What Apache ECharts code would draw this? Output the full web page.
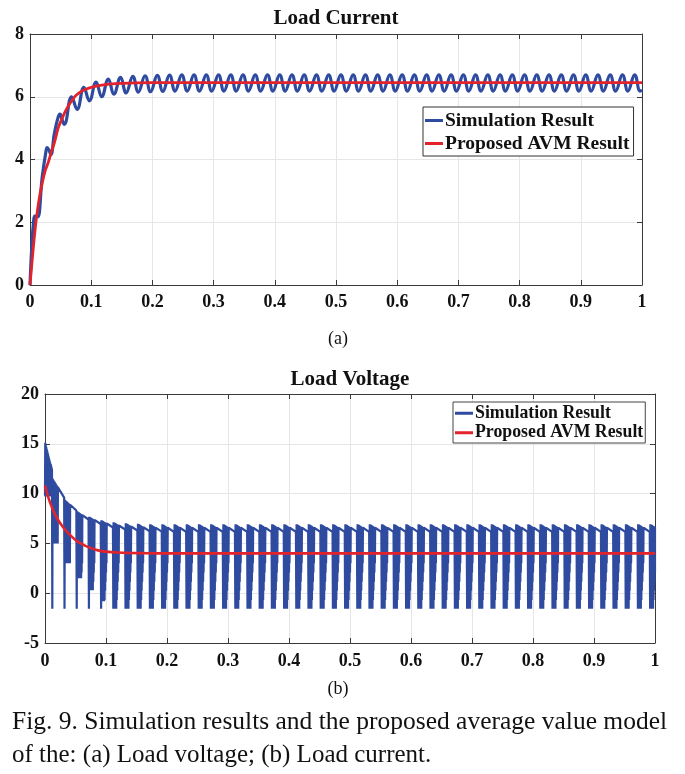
<!DOCTYPE html>
<html>
<head>
<meta charset="utf-8">
<script src="https://cdn.jsdelivr.net/npm/echarts@6/dist/echarts.min.js"></script>
<style>
html,body{margin:0;padding:0;background:#fff;}
#c{width:685px;height:774px;}
</style>
</head>
<body>
<div id="c"></div>
<script>
// ---------------- DATA ----------------
const seriesNames = ['Simulation Result', 'Proposed AVM Result'];

// Load current – simulation, start-up points
const curEarlyT = [0, 0.003, 0.006, 0.008, 0.011, 0.013, 0.02, 0.026, 0.028, 0.031, 0.034, 0.04, 0.046, 0.049, 0.052, 0.056];
const curEarlyV = [0, 1.25, 2.05, 2.2, 2.2, 2.18, 3.45, 4.25, 4.38, 4.3, 4.15, 4.85, 5.35, 5.45, 5.3, 5.12];
// Load current – per-cycle maxima / minima (cycles 3..49)
const curPeak = [6.0, 6.3, 6.47, 6.56, 6.62, 6.65, 6.67, 6.68, 6.69, 6.7,
  6.7, 6.7, 6.7, 6.7, 6.7, 6.7, 6.7, 6.7, 6.7, 6.7,
  6.7, 6.7, 6.7, 6.7, 6.7, 6.7, 6.7, 6.7, 6.7, 6.7,
  6.7, 6.7, 6.7, 6.7, 6.7, 6.7, 6.7, 6.7, 6.7, 6.7,
  6.7, 6.7, 6.7, 6.7, 6.7, 6.7, 6.7];
const curTrough = [5.6, 5.87, 6.0, 6.08, 6.12, 6.15, 6.16, 6.17, 6.18, 6.18,
  6.18, 6.18, 6.18, 6.18, 6.18, 6.18, 6.18, 6.18, 6.18, 6.18,
  6.18, 6.18, 6.18, 6.18, 6.18, 6.18, 6.18, 6.18, 6.18, 6.18,
  6.18, 6.18, 6.18, 6.18, 6.18, 6.18, 6.18, 6.18, 6.18, 6.18,
  6.18, 6.18, 6.18, 6.18, 6.18, 6.18, 6.18];
const curEndV = 6.22;
// Load current – AVM
const avmCurT = [0, 0.005, 0.01, 0.015, 0.02, 0.025, 0.03, 0.035, 0.04, 0.046, 0.05, 0.06, 0.073, 0.08, 0.09, 0.1, 0.12, 0.14, 0.17, 0.2, 0.5, 1.0];
const avmCurV = [0, 1.1, 2.05, 2.75, 3.25, 3.65, 3.92, 4.25, 4.55, 5.0, 5.2, 5.62, 6.0, 6.12, 6.23, 6.3, 6.38, 6.42, 6.44, 6.45, 6.45, 6.45];

// Load voltage – simulation
const vStart = 9.8, vInitPeak = 15.2, vInitEnd = 12.4, vInitBand = 9.7;
const vLow = -1.55;          // bottom of each switching notch
const vTaper = 3.0;          // level reached by the last notches of a pulse
// peak at the start of each pulse (after dip k)
const vPeak = [11.55, 9.4, 8.25, 7.7, 7.35, 7.15, 7.05, 7.0, 6.95, 6.95,
  6.95, 6.95, 6.95, 6.95, 6.95, 6.95, 6.95, 6.95, 6.95, 6.95,
  6.95, 6.95, 6.95, 6.95, 6.95, 6.95, 6.95, 6.95, 6.95, 6.95,
  6.95, 6.95, 6.95, 6.95, 6.95, 6.95, 6.95, 6.95, 6.95, 6.95,
  6.95, 6.95, 6.95, 6.95, 6.95, 6.95, 6.95, 6.95, 6.95, 6.95];
// level just before the next dip
const vEnd = [9.6, 8.3, 7.4, 6.95, 6.6, 6.4, 6.3, 6.22, 6.18, 6.15,
  6.15, 6.15, 6.15, 6.15, 6.15, 6.15, 6.15, 6.15, 6.15, 6.15,
  6.15, 6.15, 6.15, 6.15, 6.15, 6.15, 6.15, 6.15, 6.15, 6.15,
  6.15, 6.15, 6.15, 6.15, 6.15, 6.15, 6.15, 6.15, 6.15, 6.15,
  6.15, 6.15, 6.15, 6.15, 6.15, 6.15, 6.15, 6.15, 6.15, 6.15];
// lowest level of the switching band inside each pulse
const vBand = [5.0, 3.0, 1.5, 0.3, -0.8, -1.55, -1.55, -1.55, -1.55, -1.55,
  -1.55, -1.55, -1.55, -1.55, -1.55, -1.55, -1.55, -1.55, -1.55, -1.55,
  -1.55, -1.55, -1.55, -1.55, -1.55, -1.55, -1.55, -1.55, -1.55, -1.55,
  -1.55, -1.55, -1.55, -1.55, -1.55, -1.55, -1.55, -1.55, -1.55, -1.55,
  -1.55, -1.55, -1.55, -1.55, -1.55, -1.55, -1.55, -1.55, -1.55, -1.55];
// Load voltage – AVM
const avmVolT = [0, 0.005, 0.0115, 0.02, 0.03, 0.04, 0.051, 0.06, 0.07, 0.087, 0.1, 0.12, 0.14, 0.17, 0.2, 1.0];
const avmVolV = [10.8, 9.7, 8.6, 7.5, 6.6, 5.9, 5.3, 4.95, 4.65, 4.3, 4.17, 4.08, 4.04, 4.01, 4.0, 4.0];

// ---------------- BUILD ----------------
const period = 0.02, firstDip = 0.012, pulseW = 0.0088, nSw = 11;
function buildCurrent() {
  const pts = curEarlyT.map((t, i) => [t, curEarlyV[i]]);
  for (let j = 0; j < curPeak.length; j++) {
    const k = j + 3;
    pts.push([0.008 + period * k, curPeak[j]]);
    const tt = 0.017 + period * k;
    if (tt <= 1) pts.push([tt, curTrough[j]]);
  }
  pts.push([1.0, curEndV]);
  return pts;
}
// one switching pulse; the top follows the envelope P -> E over span
function pulse(pts, t0, span, P, E, band, firstLow) {
  const dt = pulseW / nSw;
  for (let i = 0; i <= nSw; i++) {
    const f = i / nSw;
    const t = t0 + i * dt;
    if (t > 1) break;
    let lo = band;
    if (f > 0.55) lo = Math.max(band, vLow + (vTaper - vLow) * (f - 0.55) / 0.45);
    if (i === 0) lo = firstLow;
    const tt = t + dt / 2;
    if (tt <= 1) pts.push([t, lo], [tt, P + (E - P) * ((tt - t0) / span)]);
    else pts.push([t, lo]);
  }
}
function buildVoltage() {
  const pts = [];
  const span0 = firstDip - 0.0006;
  pulse(pts, 0, span0, vInitPeak, vInitEnd, vInitBand, vStart);
  pts.push([span0, vInitEnd]);
  for (let k = 0; k < vPeak.length; k++) {
    const d = firstDip + period * k;
    const span = period - 0.0006;
    pulse(pts, d, span, vPeak[k], vEnd[k], vBand[k], vLow);
    if (d + span <= 1) pts.push([d + span, vEnd[k]]);
    else pts.push([1, vPeak[k] + (vEnd[k] - vPeak[k]) * ((1 - d) / span)]);
  }
  return pts;
}
const pairs = (T, V) => T.map((t, i) => [t, V[i]]);

const serif = "'Liberation Serif','Times New Roman',serif";
const blue = '#2F4B9F';
const red = '#E3232B';
const axisCol = '#3a3a3a';
const gridCol = '#e6e6e6';

function xAx(gi, primary, margin) {
  return {
    type: 'value', gridIndex: gi, min: 0, max: 1, interval: 0.1,
    position: primary ? 'bottom' : 'top',
    axisLine: { show: true, onZero: false, lineStyle: { color: axisCol, width: 1 } },
    axisTick: { show: true, inside: true, length: 5, lineStyle: { color: axisCol } },
    axisLabel: primary ? { show: true, margin: margin, fontFamily: serif, fontWeight: 'bold', fontSize: 18, color: '#111' } : { show: false },
    splitLine: { show: primary, lineStyle: { color: gridCol, width: 1 } }
  };
}
function yAx(gi, primary, min, max, interval) {
  return {
    type: 'value', gridIndex: gi, min: min, max: max, interval: interval,
    position: primary ? 'left' : 'right',
    axisLine: { show: true, onZero: false, lineStyle: { color: axisCol, width: 1 } },
    axisTick: { show: true, inside: true, length: 5, lineStyle: { color: axisCol } },
    axisLabel: primary ? { show: true, margin: 6, fontFamily: serif, fontWeight: 'bold', fontSize: 18, color: '#111' } : { show: false },
    splitLine: { show: primary, lineStyle: { color: gridCol, width: 1 } }
  };
}

const chart = echarts.init(document.getElementById('c'), null, { renderer: 'canvas' });
chart.setOption({
  animation: false,
  backgroundColor: '#fff',
  grid: [
    { left: 30, top: 34, width: 612, height: 251 },
    { left: 45, top: 394, width: 610, height: 249 }
  ],
  xAxis: [xAx(0, true, 8), xAx(0, false), xAx(1, true, 9), xAx(1, false)],
  yAxis: [yAx(0, true, 0, 8, 2), yAx(0, false, 0, 8, 2), yAx(1, true, -5, 20, 5), yAx(1, false, -5, 20, 5)],
  legend: [
    {
      data: seriesNames, orient: 'vertical', left: 423, top: 107,
      icon: 'rect', itemWidth: 18, itemHeight: 3, itemGap: 2,
      padding: [3, 4, 2, 2], backgroundColor: '#fff', borderColor: '#333', borderWidth: 1, borderRadius: 0,
      textStyle: { fontFamily: serif, fontWeight: 'bold', fontSize: 19.5, color: '#111', lineHeight: 21, padding: [0, 0, 0, -3] },
      selectedMode: false
    },
    {
      data: seriesNames, orient: 'vertical', left: 453, top: 402,
      icon: 'rect', itemWidth: 18, itemHeight: 3, itemGap: 1,
      padding: [2, 2, 1, 2], backgroundColor: '#fff', borderColor: '#444', borderWidth: 1, borderRadius: 0,
      textStyle: { fontFamily: serif, fontWeight: 'bold', fontSize: 17.8, color: '#111', lineHeight: 18.5, padding: [0, 0, 0, -3] },
      selectedMode: false
    }
  ],
  series: [
    { name: seriesNames[0], type: 'line', xAxisIndex: 0, yAxisIndex: 0, data: buildCurrent(), smooth: 0.45, showSymbol: false,
      lineStyle: { color: blue, width: 3.2 }, itemStyle: { color: blue }, z: 2 },
    { name: seriesNames[1], type: 'line', xAxisIndex: 0, yAxisIndex: 0, data: pairs(avmCurT, avmCurV), smooth: 0.4, showSymbol: false,
      lineStyle: { color: red, width: 2.8 }, itemStyle: { color: red }, z: 3 },
    { name: seriesNames[0], type: 'line', xAxisIndex: 2, yAxisIndex: 2, data: buildVoltage(), smooth: false, showSymbol: false,
      lineStyle: { color: blue, width: 2.2 }, itemStyle: { color: blue }, z: 2 },
    { name: seriesNames[1], type: 'line', xAxisIndex: 2, yAxisIndex: 2, data: pairs(avmVolT, avmVolV), smooth: 0.4, showSymbol: false,
      lineStyle: { color: red, width: 2.6 }, itemStyle: { color: red }, z: 3 }
  ],
  graphic: [
    { type: 'text', x: 336, y: 19, style: { text: 'Load Current', font: "bold 21px 'Liberation Serif'", fill: '#111', textAlign: 'center', textVerticalAlign: 'middle' } },
    { type: 'text', x: 338, y: 339, style: { text: '(a)', font: "18px 'Liberation Serif'", fill: '#111', textAlign: 'center', textVerticalAlign: 'middle' } },
    { type: 'text', x: 350, y: 380, style: { text: 'Load Voltage', font: "bold 21px 'Liberation Serif'", fill: '#111', textAlign: 'center', textVerticalAlign: 'middle' } },
    { type: 'text', x: 338, y: 689, style: { text: '(b)', font: "18px 'Liberation Serif'", fill: '#111', textAlign: 'center', textVerticalAlign: 'middle' } },
    { type: 'text', x: 12, y: 722, scaleX: 1.02, style: { text: 'Fig. 9. Simulation results and the proposed average value model', font: "25px 'Liberation Serif'", fill: '#111', textAlign: 'left', textVerticalAlign: 'middle' } },
    { type: 'text', x: 12, y: 755, style: { text: 'of the: (a) Load voltage; (b) Load current.', font: "25px 'Liberation Serif'", fill: '#111', textAlign: 'left', textVerticalAlign: 'middle' } }
  ]
});
</script>
</body>
</html>
